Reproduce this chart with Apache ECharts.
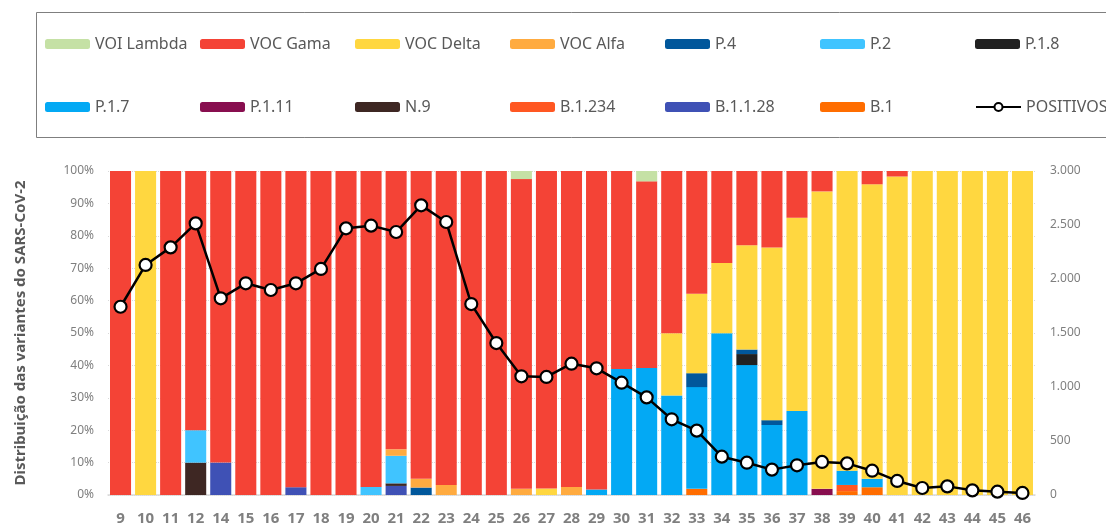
<!DOCTYPE html>
<html>
<head>
<meta charset="utf-8">
<script src="https://cdn.jsdelivr.net/npm/echarts@6/dist/echarts.min.js"></script>
<style>
  html, body { margin: 0; padding: 0; background: #fff; }
  #chart { width: 1106px; height: 526px; }
</style>
</head>
<body>
<div id="chart"></div>
<script>
// semanas epidemiológicas (a 13 não aparece)
const weeks = ['9', '10', '11', '12', '14', '15', '16', '17', '18', '19', '20', '21', '22', '23', '24', '25', '26', '27', '28', '29',
  '30', '31', '32', '33', '34', '35', '36', '37', '38', '39', '40', '41', '42', '43', '44', '45', '46'];

// % por variante
const b1 =       [0,0,0,0,0, 0,0,0,0,0, 0,0,0,0,0, 0,0,0,0,0, 0,0,0,1.9,0, 0,0,0,0,1.2, 2.4,0,0,0,0, 0,0];
const b1128 =    [0,0,0,0,10, 0,0,2.4,0,0, 0,2.8,0,0,0, 0,0,0,0,0, 0,0,0,0,0, 0,0,0,0,0, 0,0,0,0,0, 0,0];
const b1234 =    [0,0,0,0,0, 0,0,0,0,0, 0,0,0,0,0, 0,0,0,0,0, 0,0,0,0,0, 0,0,0,0,1.9, 0,0,0,0,0, 0,0];
const n9 =       [0,0,0,10,0, 0,0,0,0,0, 0,0.8,0,0,0, 0,0,0,0,0, 0,0,0,0,0, 0,0,0,0,0, 0,0,0,0,0, 0,0];
const p111 =     [0,0,0,0,0, 0,0,0,0,0, 0,0,0,0,0, 0,0,0,0,0, 0,0,0,0,0, 0,0,0,1.9,0, 0,0,0,0,0, 0,0];
const p17 =      [0,0,0,0,0, 0,0,0,0,0, 0,0,0,0,0, 0,0,0,0,1.7, 38.9,39.2,30.7,31.4,49.9, 40.1,21.6,25.9,0,4.4, 2.6,0,0,0,0, 0,0];
const p18 =      [0,0,0,0,0, 0,0,0,0,0, 0,0,0,0,0, 0,0,0,0,0, 0,0,0,0,0, 3.4,0,0,0,0, 0,0,0,0,0, 0,0];
const p2 =       [0,0,0,10,0, 0,0,0,0,0, 2.5,8.5,0,0,0, 0,0,0,0,0, 0,0,0,0,0, 0,0,0,0,0, 0,0,0,0,0, 0,0];
const p4 =       [0,0,0,0,0, 0,0,0,0,0, 0,0,2.3,0,0, 0,0,0,0,0, 0,0,0,4.3,0, 1.4,1.5,0,0,0, 0,0,0,0,0, 0,0];
const alfa =     [0,0,0,0,0, 0,0,0,0,0, 0,2,2.7,3.1,0, 0,1.9,0,2.5,0, 0,0,0,0,0, 0,0,0,0,0, 0,0,0,0,0, 0,0];
const delta =    [0,100,0,0,0, 0,0,0,0,0, 0,0,0,0,0, 0,0,2,0,0, 0,0,19.2,24.5,21.7, 32.2,53.3,59.7,91.8,92.5, 90.9,98.3,100,100,100, 100,100];
const gama =     [100,0,100,80,90, 100,100,97.6,100,100, 97.5,85.9,95,96.9,100, 100,95.6,98,97.5,98.3, 61.1,57.6,50.1,37.9,28.4, 22.9,23.6,14.4,6.3,0, 4.1,1.7,0,0,0, 0,0];
const lambda =   [0,0,0,0,0, 0,0,0,0,0, 0,0,0,0,0, 0,2.5,0,0,0, 0,3.2,0,0,0, 0,0,0,0,0, 0,0,0,0,0, 0,0];

// casos positivos (eixo da direita)
const positivos = [1743,2130,2293,2515,1821, 1960,1898,1960,2093,2469, 2494,2435,2682,2528,1768, 1407,1099,1093,1216,1173,
  1040,904,701,596,355, 299,235,275,306,293, 225,130,65,80,43, 31,19];

const pctTicks = [0, 10, 20, 30, 40, 50, 60, 70, 80, 90, 100];
const casesTicks = [0, 500, 1000, 1500, 2000, 2500, 3000];

// empilhado de baixo para cima
const variants = [
  { name: 'B.1', data: b1, color: '#FF6D00' },
  { name: 'B.1.1.28', data: b1128, color: '#3F51B5' },
  { name: 'B.1.234', data: b1234, color: '#FF5722' },
  { name: 'N.9', data: n9, color: '#3E2723' },
  { name: 'P.1.11', data: p111, color: '#880E4F' },
  { name: 'P.1.7', data: p17, color: '#03A9F4' },
  { name: 'P.1.8', data: p18, color: '#212121' },
  { name: 'P.2', data: p2, color: '#40C4FF' },
  { name: 'P.4', data: p4, color: '#01579B' },
  { name: 'VOC Alfa', data: alfa, color: '#FFAB40' },
  { name: 'VOC Delta', data: delta, color: '#FFD740' },
  { name: 'VOC Gama', data: gama, color: '#F44336' },
  { name: 'VOI Lambda', data: lambda, color: '#C5E1A5' }
];

// ordem da legenda (7 colunas x 2 linhas)
const legendOrder = ['VOI Lambda', 'VOC Gama', 'VOC Delta', 'VOC Alfa', 'P.4', 'P.2', 'P.1.8',
  'P.1.7', 'P.1.11', 'N.9', 'B.1.234', 'B.1.1.28', 'B.1', 'POSITIVOS'];

const font = '"Noto Sans", "Open Sans", sans-serif';

function thousands(v) {
  return String(v).replace(/\B(?=(\d{3})+(?!\d))/g, '.');
}

const legends = legendOrder.map(function (name, i) {
  const col = i % 7, row = Math.floor(i / 7);
  return {
    data: [name],
    left: 45 + col * 155,
    top: row === 0 ? 36 : 99,
    padding: 0,
    itemWidth: 45,
    itemHeight: 10,
    itemGap: 0,
    selectedMode: false,
    textStyle: { color: '#595959', fontSize: 16, fontFamily: font }
  };
});

const series = variants.map(function (v) {
  return {
    name: v.name,
    type: 'bar',
    stack: 'variantes',
    barCategoryGap: '16%',
    data: v.data,
    itemStyle: { color: v.color },
    emphasis: { disabled: true }
  };
});

series.push({
  name: 'POSITIVOS',
  type: 'line',
  yAxisIndex: 1,
  data: positivos,
  symbol: 'circle',
  symbolSize: 12,
  z: 10,
  lineStyle: { color: '#000', width: 2.5 },
  itemStyle: { color: '#fff', borderColor: '#000', borderWidth: 2.2 }
});

const chart = echarts.init(document.getElementById('chart'));
chart.setOption({
  animation: false,
  textStyle: { fontFamily: font },
  graphic: [{
    type: 'rect',
    shape: { x: 36.5, y: 12.5, width: 1100, height: 125 },
    style: { fill: 'none', stroke: '#7f7f7f', lineWidth: 1 },
    silent: true
  }],
  legend: legends,
  grid: { left: 108, right: 71, top: 171, bottom: 31 },
  xAxis: {
    type: 'category',
    data: weeks,
    axisTick: { show: false },
    axisLine: { lineStyle: { color: '#d9d9d9', width: 1.5 } },
    axisLabel: { color: '#7f7f7f', fontSize: 15, fontWeight: 'bold', margin: 16, interval: 0, fontFamily: font }
  },
  yAxis: [{
    type: 'value',
    min: pctTicks[0],
    max: pctTicks[pctTicks.length - 1],
    interval: 10,
    name: 'Distribuição das variantes do SARS-CoV-2',
    nameLocation: 'middle',
    nameGap: 80,
    nameTextStyle: { color: '#595959', fontSize: 15, fontWeight: 'bold', fontFamily: font },
    axisLabel: { color: '#7f7f7f', fontSize: 12, margin: 14, formatter: '{value}%', fontFamily: font },
    splitLine: { lineStyle: { color: '#d9d9d9', type: 'dotted' } }
  }, {
    type: 'value',
    min: casesTicks[0],
    max: casesTicks[casesTicks.length - 1],
    interval: 500,
    axisLabel: { color: '#7f7f7f', fontSize: 12, margin: 15, formatter: thousands, fontFamily: font },
    splitLine: { show: false }
  }],
  series: series
});
</script>
</body>
</html>
